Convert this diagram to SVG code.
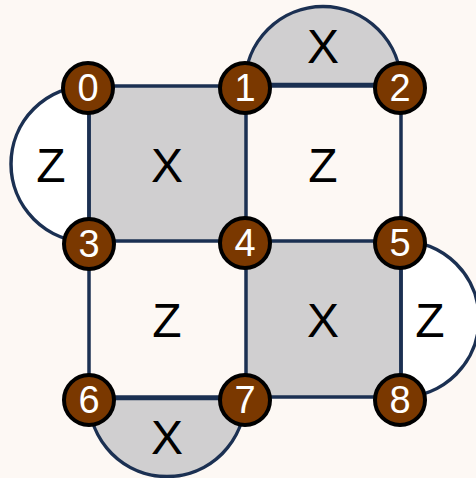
<svg xmlns="http://www.w3.org/2000/svg" width="476" height="478" viewBox="0 0 476 478">
  <style>
    .bg { fill: #fdf8f4; }
    .xface { fill: #d0cfd0; }
    .zface { fill: #ffffff; }
    .edge { stroke: #1b3052; stroke-width: 3.5; fill: none; }
    .cap { stroke: #1b3052; stroke-width: 3.5; }
    .node circle { fill: #7a3800; stroke: #000000; stroke-width: 4; }
    .node text { fill: #ffffff; font-family: "Liberation Sans", Arial, sans-serif; font-size: 38px; text-anchor: middle; dominant-baseline: central; }
    .lbl { fill: #000000; font-family: "Liberation Sans", Arial, sans-serif; font-size: 48px; text-anchor: middle; dominant-baseline: central; }
  </style>
  <rect class="bg" x="0" y="0" width="476" height="478"/>

  <!-- plaquettes -->
  <g id="faces">
    <rect class="xface" x="89" y="86" width="157" height="155"/>
    <rect class="xface" x="246" y="241" width="155" height="156"/>
    <!-- boundary half-disc stabilizers -->
    <path class="cap xface" d="M 245 84.5 A 78 78 0 0 1 401 84.5 Z"/>
    <path class="cap zface" d="M 89 86 A 78 78 0 0 0 89 242 Z"/>
    <path class="cap zface" d="M 401 241 A 78 78 0 0 1 401 397 Z"/>
    <path class="cap xface" d="M 89 398.5 A 78 78 0 0 0 245 398.5 Z"/>
  </g>

  <!-- connectors -->
  <g id="edges" class="edge">
    <line x1="89" y1="86" x2="401" y2="86"/>
    <line x1="89" y1="241" x2="401" y2="241"/>
    <line x1="89" y1="397" x2="401" y2="397"/>
    <line x1="89" y1="86" x2="89" y2="397"/>
    <line x1="246" y1="86" x2="246" y2="397"/>
    <line x1="401" y1="86" x2="401" y2="397"/>
  </g>

  <!-- face labels -->
  <g id="labels">
    <text class="lbl" x="167" y="165">X</text>
    <text class="lbl" x="323" y="165">Z</text>
    <text class="lbl" x="323" y="46">X</text>
    <text class="lbl" x="51" y="165">Z</text>
    <text class="lbl" x="167" y="320">Z</text>
    <text class="lbl" x="323" y="320">X</text>
    <text class="lbl" x="430" y="320">Z</text>
    <text class="lbl" x="167" y="437">X</text>
  </g>

  <!-- qubits -->
  <g id="n0" class="node"><circle cx="88" cy="88" r="25"/><text x="88" y="88">0</text></g>
  <g id="n1" class="node"><circle cx="245" cy="88" r="25"/><text x="245" y="88">1</text></g>
  <g id="n2" class="node"><circle cx="400" cy="88" r="25"/><text x="400" y="88">2</text></g>
  <g id="n3" class="node"><circle cx="89" cy="244" r="25"/><text x="89" y="244">3</text></g>
  <g id="n4" class="node"><circle cx="245" cy="243" r="25"/><text x="245" y="243">4</text></g>
  <g id="n5" class="node"><circle cx="400" cy="243" r="25"/><text x="400" y="243">5</text></g>
  <g id="n6" class="node"><circle cx="89" cy="400" r="25"/><text x="89" y="400">6</text></g>
  <g id="n7" class="node"><circle cx="245" cy="400" r="25"/><text x="245" y="400">7</text></g>
  <g id="n8" class="node"><circle cx="400" cy="400" r="25"/><text x="400" y="400">8</text></g>
</svg>
